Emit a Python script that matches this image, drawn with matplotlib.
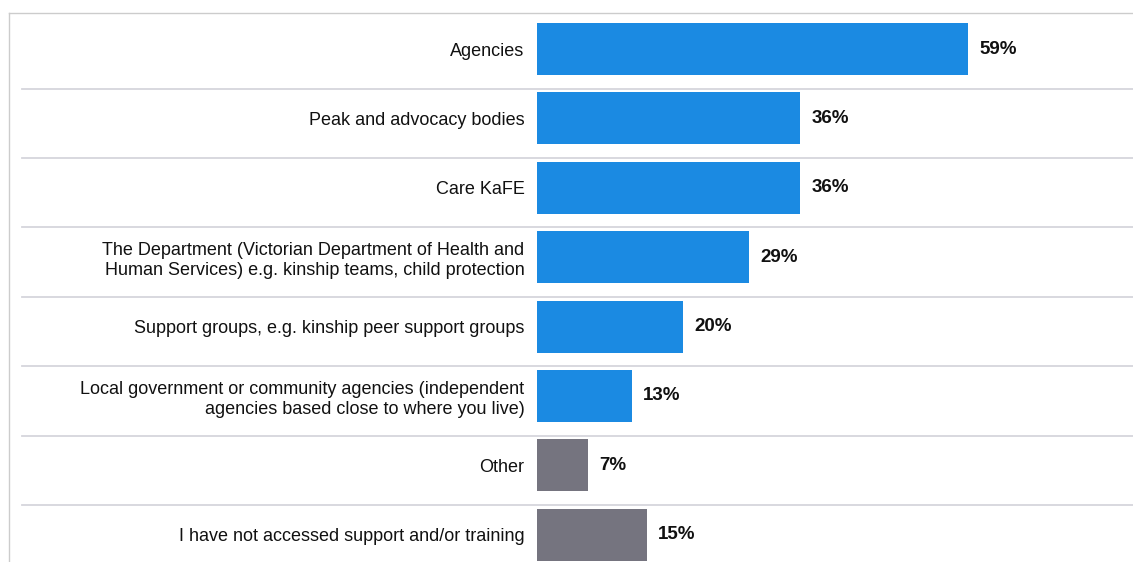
import matplotlib.pyplot as plt
from matplotlib.lines import Line2D
from matplotlib.transforms import blended_transform_factory

plt.rcParams['font.family'] = ['Liberation Sans', 'DejaVu Sans']

# survey answers, top to bottom
categories = [
    'Agencies',
    'Peak and advocacy bodies',
    'Care KaFE',
    'The Department (Victorian Department of Health and\nHuman Services) e.g. kinship teams, child protection',
    'Support groups, e.g. kinship peer support groups',
    'Local government or community agencies (independent\nagencies based close to where you live)',
    'Other',
    'I have not accessed support and/or training',
]
values = [59, 36, 36, 29, 20, 13, 7, 15]
is_other = [False, False, False, False, False, False, True, True]

blue = '#1b8ae2'
grey = '#75747f'
colors = [grey if o else blue for o in is_other]

fig = plt.figure(figsize=(11.33, 5.62), dpi=100)
W, H = 1133, 562
ax = fig.add_axes([537 / W, 0, 1 - 537 / W, 1])

y = list(range(len(categories)))
ax.barh(y, values, height=0.75, color=colors, edgecolor='none')

# pixel layout -> data limits
pitch = 69.4
first_center = 49
ax.set_ylim((H - first_center) / pitch, -first_center / pitch)
ax.set_xlim(0, (W - 537) / 7.31)

for yi, v in zip(y, values):
    ax.annotate(f'{v}%', (v, yi), xytext=(11, 0), textcoords='offset pixels',
                ha='left', va='center', fontsize=13.5, fontweight='bold', color='#111111')

ax.set_yticks(y)
ax.set_yticklabels(categories, fontsize=13, color='#111111', linespacing=1.25)
ax.tick_params(axis='y', length=0, pad=9)
ax.tick_params(axis='x', bottom=False, labelbottom=False)
for s in ax.spines.values():
    s.set_visible(False)

# row separators spanning the figure
trans = blended_transform_factory(fig.transFigure, ax.transData)
for i in range(1, len(categories)):
    sep = i - 0.43
    fig.add_artist(Line2D([22 / W, 1], [sep, sep], transform=trans,
                          color='#d6d6dc', lw=1.3))

# outer frame (top and left)
fig.add_artist(Line2D([9 / W, 1], [1 - 13 / H, 1 - 13 / H], transform=fig.transFigure,
                      color='#cccccc', lw=1.0))
fig.add_artist(Line2D([9 / W, 9 / W], [0, 1 - 13 / H], transform=fig.transFigure,
                      color='#cccccc', lw=1.0))

fig.savefig('out.png', dpi=100)
